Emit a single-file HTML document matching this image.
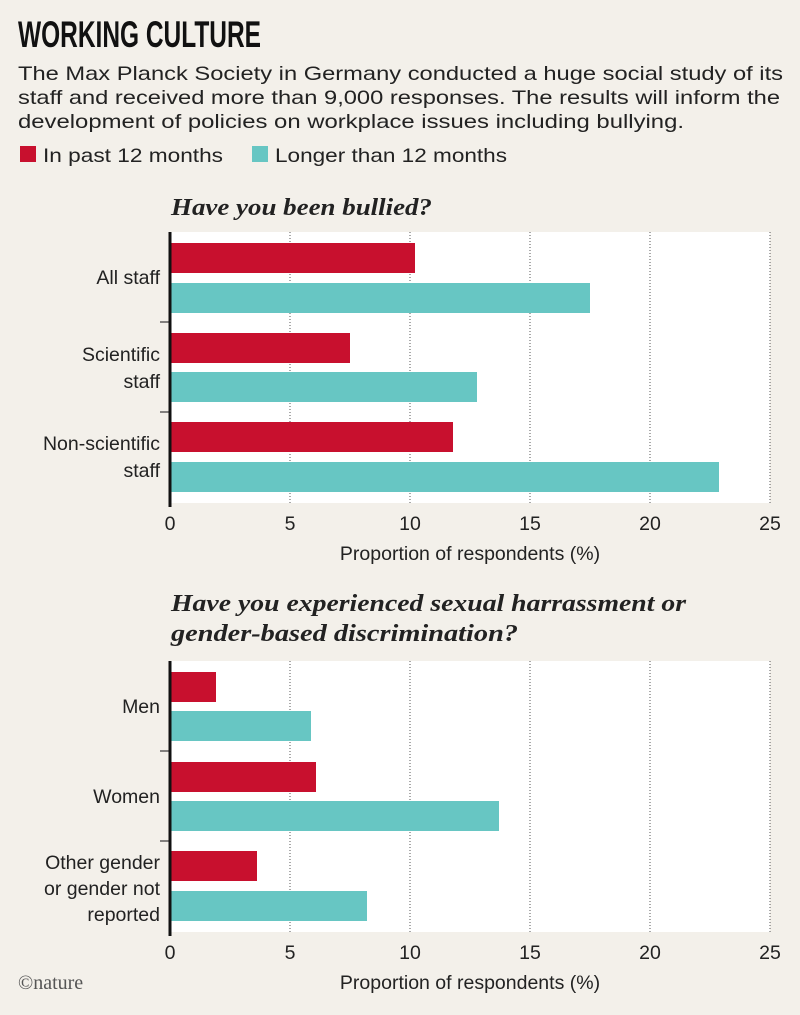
<!DOCTYPE html><html><head><style>
body{margin:0;background:#f3f0ea;width:800px;height:1010px;overflow:hidden}
svg text{font-family:"Liberation Sans",sans-serif;fill:#222}
</style></head><body>
<svg width="800" height="1010" xmlns="http://www.w3.org/2000/svg">
<rect width="800" height="1010" fill="#f3f0ea"/>
<text x="18" y="47" style="font-family:'Liberation Sans Narrow','Liberation Sans',sans-serif;font-weight:bold;font-size:37px;fill:#111" textLength="243" lengthAdjust="spacingAndGlyphs">WORKING CULTURE</text>
<text x="18" y="80" font-size="19.5" textLength="765" lengthAdjust="spacingAndGlyphs">The Max Planck Society in Germany conducted a huge social study of its</text>
<text x="18" y="104" font-size="19.5" textLength="762" lengthAdjust="spacingAndGlyphs">staff and received more than 9,000 responses. The results will inform the</text>
<text x="18" y="128" font-size="19.5" textLength="666" lengthAdjust="spacingAndGlyphs">development of policies on workplace issues including bullying.</text>
<rect x="20" y="146" width="16" height="16" fill="#c8102e"/>
<text x="43" y="162" font-size="19.5" textLength="180" lengthAdjust="spacingAndGlyphs">In past 12 months</text>
<rect x="252" y="146" width="16" height="16" fill="#67c6c3"/>
<text x="275" y="162" font-size="19.5" textLength="232" lengthAdjust="spacingAndGlyphs">Longer than 12 months</text>

<text x="171" y="215" style="font-family:'Liberation Serif',serif;font-style:italic;font-weight:bold;font-size:24px" textLength="261" lengthAdjust="spacingAndGlyphs">Have you been bullied?</text>
<rect x="170" y="232" width="600" height="271" fill="#fff"/>
<g stroke="#555" stroke-dasharray="1,2" stroke-width="1">
<line x1="290" y1="232" x2="290" y2="503"/><line x1="410" y1="232" x2="410" y2="503"/><line x1="530" y1="232" x2="530" y2="503"/><line x1="650" y1="232" x2="650" y2="503"/><line x1="770" y1="232" x2="770" y2="503"/></g>
<g fill="#c8102e"><rect x="170" y="243" width="245" height="30"/><rect x="170" y="333" width="180" height="30"/><rect x="170" y="422" width="283" height="30"/></g>
<g fill="#67c6c3"><rect x="170" y="283" width="420" height="30"/><rect x="170" y="372" width="307" height="30"/><rect x="170" y="462" width="549" height="30"/></g>
<line x1="170" y1="232" x2="170" y2="507" stroke="#111" stroke-width="3"/>
<line x1="160" y1="322" x2="170" y2="322" stroke="#111" stroke-width="1"/><line x1="160" y1="412" x2="170" y2="412" stroke="#111" stroke-width="1"/>
<g font-size="19.5" text-anchor="end">
<text x="160" y="284">All staff</text>
<text x="160" y="361">Scientific</text><text x="160" y="388">staff</text>
<text x="160" y="450">Non-scientific</text><text x="160" y="477">staff</text></g>
<g font-size="19.5" text-anchor="middle">
<text x="170" y="530">0</text><text x="290" y="530">5</text><text x="410" y="530">10</text><text x="530" y="530">15</text><text x="650" y="530">20</text><text x="770" y="530">25</text>
<text x="470" y="560">Proportion of respondents (%)</text></g>

<text x="171" y="611" style="font-family:'Liberation Serif',serif;font-style:italic;font-weight:bold;font-size:24px" textLength="515" lengthAdjust="spacingAndGlyphs">Have you experienced sexual harrassment or</text>
<text x="171" y="641" style="font-family:'Liberation Serif',serif;font-style:italic;font-weight:bold;font-size:24px" textLength="347" lengthAdjust="spacingAndGlyphs">gender-based discrimination?</text>
<rect x="170" y="661" width="600" height="271" fill="#fff"/>
<g stroke="#555" stroke-dasharray="1,2" stroke-width="1">
<line x1="290" y1="661" x2="290" y2="932"/><line x1="410" y1="661" x2="410" y2="932"/><line x1="530" y1="661" x2="530" y2="932"/><line x1="650" y1="661" x2="650" y2="932"/><line x1="770" y1="661" x2="770" y2="932"/></g>
<g fill="#c8102e"><rect x="170" y="672" width="46" height="30"/><rect x="170" y="762" width="146" height="30"/><rect x="170" y="851" width="87" height="30"/></g>
<g fill="#67c6c3"><rect x="170" y="711" width="141" height="30"/><rect x="170" y="801" width="329" height="30"/><rect x="170" y="891" width="197" height="30"/></g>
<line x1="170" y1="661" x2="170" y2="936" stroke="#111" stroke-width="3"/>
<line x1="160" y1="751" x2="170" y2="751" stroke="#111" stroke-width="1"/><line x1="160" y1="841" x2="170" y2="841" stroke="#111" stroke-width="1"/>
<g font-size="19.5" text-anchor="end">
<text x="160" y="713">Men</text>
<text x="160" y="803">Women</text>
<text x="160" y="869">Other gender</text><text x="160" y="895">or gender not</text><text x="160" y="921">reported</text></g>
<g font-size="19.5" text-anchor="middle">
<text x="170" y="959">0</text><text x="290" y="959">5</text><text x="410" y="959">10</text><text x="530" y="959">15</text><text x="650" y="959">20</text><text x="770" y="959">25</text>
<text x="470" y="989">Proportion of respondents (%)</text></g>
<text x="18" y="989" style="font-family:'Liberation Serif',serif;font-size:20px;fill:#555">©nature</text>
</svg></body></html>
